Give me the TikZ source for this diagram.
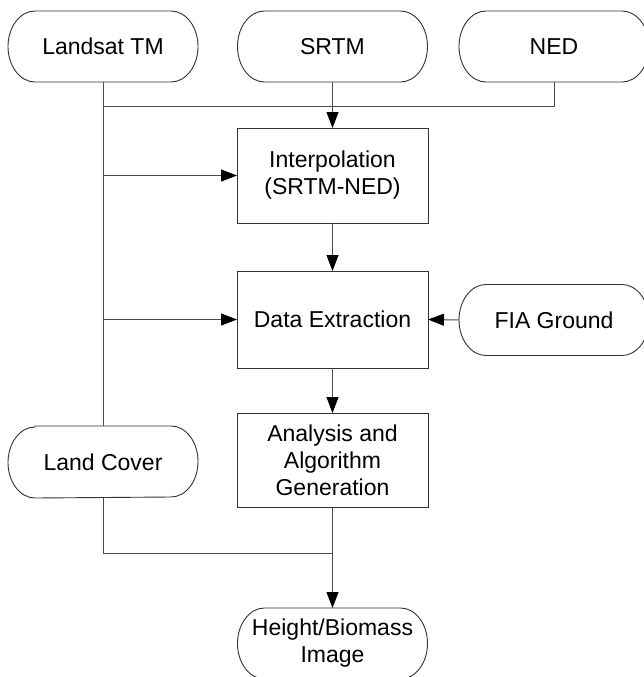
\documentclass[tikz,border=0pt]{standalone}
\usepackage{fontspec}
\setmainfont{Liberation Sans}
\usetikzlibrary{arrows.meta}
\tikzset{
  lineC/.style={draw=black!80, line width=0.9pt},
  conn/.style={draw=black!70, line width=1pt},
  arr/.style={conn, -{Triangle[length=16pt,width=12pt,color=black]}},
  txt/.style={font=\fontsize{23}{27}\selectfont, align=center, inner sep=0pt, outer sep=0pt, text=black},
  pillnode/.style={txt, minimum width=190pt, minimum height=71pt},
  boxnode/.style={txt, lineC, minimum width=191pt},
}
\newcommand{\drawpill}[1]{%
  \draw[lineC] ([xshift=27pt]#1.north west) -- ([xshift=-27pt]#1.north east)
    arc[start angle=90,end angle=-90,x radius=27pt,y radius=35.5pt]
    -- ([xshift=27pt]#1.south west)
    arc[start angle=270,end angle=90,x radius=27pt,y radius=35.5pt] -- cycle;}
\begin{document}
\begin{tikzpicture}[x=1pt,y=1pt]
\useasboundingbox (0,0) rectangle (644,-677);
\clip (0,0) rectangle (644,-677);
\fill[white] (0,0) rectangle (644,-677);
% terminals
\node[pillnode] (landsat) at (103,-46.5) {Landsat TM};
\node[pillnode] (srtm) at (332.5,-46.5) {SRTM};
\node[pillnode] (ned) at (554,-46.5) {NED};
\node[pillnode] (fia) at (554,-320) {FIA Ground};
\node[pillnode, minimum height=72pt] (lc) at (103,-462) {Land Cover};
\node[pillnode] (hb) at (332.5,-643.5) {Height/Biomass\\Image};
\drawpill{landsat}
\drawpill{srtm}
\drawpill{ned}
\drawpill{fia}
\drawpill{lc}
\drawpill{hb}
% process boxes
\node[boxnode, minimum height=95pt] (interp) at (332.5,-175.5) {Interpolation\\(SRTM-NED)};
\node[boxnode, minimum height=97pt] (de) at (332.5,-319.5) {Data Extraction};
\node[boxnode, minimum height=94pt] (an) at (332.5,-460) {Analysis and\\Algorithm\\Generation};
% connectors
\coordinate (jl) at (landsat.south |- 0,-106);
\coordinate (jn) at (ned.south |- 0,-106);
\coordinate (lcb) at (lc.south |- 0,-553);
\coordinate (anb) at (an.south |- 0,-553);
\draw[conn] (landsat.south) -- (lc.north);
\draw[conn] (jl) -- (jn) -- (ned.south);
\draw[arr] (srtm.south) -- (interp.north);
\draw[arr] (landsat.south |- interp.west) -- (interp.west);
\draw[arr] (landsat.south |- de.west) -- (de.west);
\draw[arr] (interp.south) -- (de.north);
\draw[arr] (fia.west) -- (de.east);
\draw[arr] (de.south) -- (an.north);
\draw[conn] (lc.south) -- (lcb) -- (anb);
\draw[arr] (an.south) -- (hb.north);
\end{tikzpicture}
\end{document}
